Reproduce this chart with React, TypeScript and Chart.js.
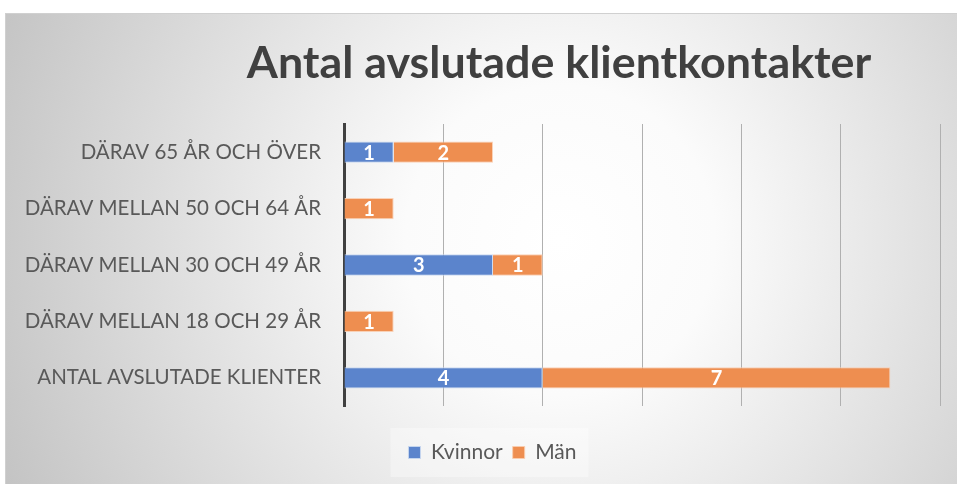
import React, { useEffect, useRef } from "react";
import { Chart, registerables } from "chart.js";

Chart.register(...registerables);

const titleText = "Antal avslutade klientkontakter";
const categories = [
  "DÄRAV 65 ÅR OCH ÖVER",
  "DÄRAV MELLAN 50 OCH 64 ÅR",
  "DÄRAV MELLAN 30 OCH 49 ÅR",
  "DÄRAV MELLAN 18 OCH 29 ÅR",
  "ANTAL AVSLUTADE KLIENTER",
];
const seriesNames = ["Kvinnor", "Män"];
const kvinnor = [1, null, 3, null, 4];
const man = [2, 1, 1, 1, 7];
const xMax = 12;
const xStep = 2;

const W = 957;
const H = 484;

const bgPlugin = {
  id: "bgPlugin",
  afterLayout(chart: any) {
    const lg = chart.legend;
    if (lg) {
      lg.left += 20;
      lg.right += 20;
    }
  },
  beforeDraw(chart: any) {
    const ctx = chart.ctx;
    ctx.save();
    ctx.fillStyle = "#ffffff";
    ctx.fillRect(0, 0, W, H);
    const bx = 5, by = 13, bw = W - 5, bh = H - 13;
    const g = ctx.createRadialGradient(560, 240, 0, 560, 240, 620);
    g.addColorStop(0, "#ffffff");
    g.addColorStop(0.25, "#fbfbfb");
    g.addColorStop(1, "#c2c2c2");
    ctx.fillStyle = g;
    ctx.fillRect(bx, by, bw, bh);
    ctx.strokeStyle = "#d0d0d0";
    ctx.lineWidth = 1;
    ctx.strokeRect(bx + 0.5, by + 0.5, bw, bh);
    // legend backdrop
    const lg = chart.legend;
    if (lg && lg.legendHitBoxes && lg.legendHitBoxes.length) {
      const hb = lg.legendHitBoxes;
      const l = hb[0].left - 18;
      const r = hb[hb.length - 1].left + hb[hb.length - 1].width + 12;
      const t = hb[0].top - 14;
      const b = hb[0].top + hb[0].height + 14;
      ctx.fillStyle = "rgba(255,255,255,0.35)";
      ctx.fillRect(l, t, r - l, b - t);
    }
    // title
    ctx.fillStyle = "#404040";
    ctx.textAlign = "center";
    ctx.textBaseline = "alphabetic";
    ctx.font = "bold 40px Lato";
    const w = ctx.measureText(titleText).width;
    const size = (40 * 625) / w;
    ctx.font = `bold ${size.toFixed(1)}px Lato`;
    ctx.fillText(titleText, 559, 78);
    ctx.restore();
  },
};

const labelPlugin = {
  id: "labelPlugin",
  afterDatasetsDraw(chart: any) {
    const ctx = chart.ctx;
    ctx.save();
    ctx.fillStyle = "#ffffff";
    ctx.font = "bold 20px Lato";
    ctx.textAlign = "center";
    ctx.textBaseline = "middle";
    chart.data.datasets.forEach((ds: any, di: number) => {
      const meta = chart.getDatasetMeta(di);
      meta.data.forEach((el: any, i: number) => {
        const v = ds.data[i];
        if (v == null || v === 0) return;
        const cx = (el.x + el.base) / 2;
        ctx.fillText(String(v), cx, el.y + 1);
      });
    });
    ctx.restore();
  },
};

export default function App() {
  const ref = useRef<HTMLCanvasElement | null>(null);
  useEffect(() => {
    if (!ref.current) return;
    const chart = new Chart(ref.current, {
      type: "bar",
      data: {
        labels: categories,
        datasets: [
          {
            label: seriesNames[0],
            data: kvinnor,
            backgroundColor: "#5B84CC",
            borderColor: "rgba(200,215,240,0.9)",
            borderWidth: 1,
            categoryPercentage: 0.42,
            barPercentage: 0.9,
          },
          {
            label: seriesNames[1],
            data: man,
            backgroundColor: "#EE8E50",
            borderColor: "rgba(250,205,175,0.9)",
            borderWidth: 1,
            categoryPercentage: 0.42,
            barPercentage: 0.9,
          },
        ],
      },
      options: {
        indexAxis: "y",
        responsive: false,
        animation: false,
        events: [],
        layout: { padding: { left: 5, right: 17, top: 124, bottom: 11 } },
        scales: {
          x: {
            stacked: true,
            min: 0,
            max: xMax,
            ticks: { display: false, stepSize: xStep },
            grid: { color: "#b0b0b0", lineWidth: 1, drawTicks: false },
            border: { display: false },
            afterFit(scale: any) {
              scale.height = 26;
            },
          },
          y: {
            stacked: true,
            ticks: {
              color: "#595959",
              font: { family: "Lato", size: 20.5 },
              padding: 23,
            },
            grid: { display: false, drawTicks: false },
            border: { display: true, color: "#404040", width: 3 },
            afterFit(scale: any) {
              scale.width = 344 - 5;
            },
          },
        },
        plugins: {
          legend: {
            position: "bottom",
            labels: {
              boxWidth: 12,
              boxHeight: 12,
              padding: 10,
              color: "#595959",
              font: { family: "Lato", size: 21 },
            },
          },
          title: { display: false },
          tooltip: { enabled: false },
        },
      },
      plugins: [bgPlugin, labelPlugin],
    } as any);
    return () => chart.destroy();
  }, []);
  return (
    <div style={{ position: "absolute", left: 0, top: 0, width: W, height: H }}>
      <canvas ref={ref} width={W} height={H} style={{ display: "block" }} />
    </div>
  );
}
